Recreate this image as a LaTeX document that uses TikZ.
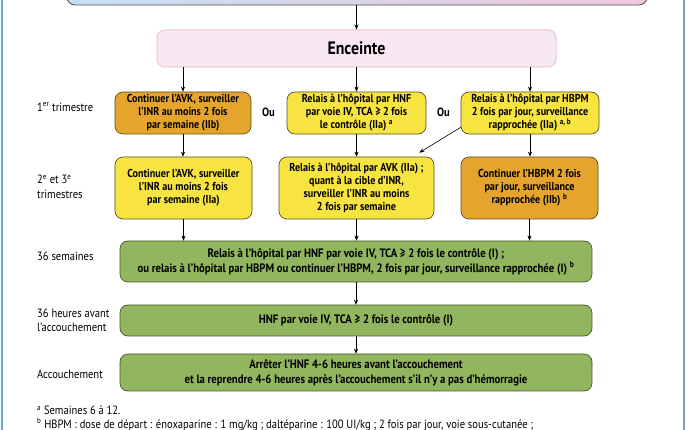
\documentclass[tikz,border=0pt]{standalone}
\usepackage{fontspec}
\setmainfont{PT Sans}[FakeStretch=0.88]
\usetikzlibrary{arrows.meta}
\definecolor{orangebox}{HTML}{E5A52C}
\definecolor{yellowbox}{HTML}{F8E440}
\definecolor{greenbox}{HTML}{92B55F}
\definecolor{ybord}{HTML}{5B4F1F}
\definecolor{gbord}{HTML}{4B5A2A}
\definecolor{encfill}{HTML}{F8E8F2}
\definecolor{encbord}{HTML}{EEC2DB}
\definecolor{topleft}{HTML}{C5DFF0}
\definecolor{topright}{HTML}{F0C8DE}
\definecolor{frameblue}{HTML}{6AA8E0}
\tikzset{
  base/.style={rounded corners=8pt, align=center, inner sep=1pt,
    font=\bfseries\fontsize{11.5}{13}\selectfont},
  orangenode/.style={base, draw=ybord, line width=0.7pt, fill=orangebox},
  yellownode/.style={base, draw=ybord, line width=0.7pt, fill=yellowbox},
  greennode/.style={base, draw=gbord, line width=0.7pt, fill=greenbox,
    font=\bfseries\fontsize{12.2}{15}\selectfont},
  lab/.style={anchor=west, align=left, inner sep=0pt, font=\fontsize{12}{14.5}\selectfont},
  arr/.style={-{Stealth[length=5pt,width=4pt]}, line width=0.6pt, black},
}
\begin{document}
\begin{tikzpicture}[x=1pt,y=-1pt]
\useasboundingbox (0,0) rectangle (686,430);
% frame
\draw[frameblue, line width=1.5pt] (2,0) -- (2,430);
\draw[frameblue, line width=1.5pt] (684,0) -- (684,430);
% top box (cut)
\node[draw=black!70, line width=0.8pt, rounded corners=8pt, left color=topleft, right color=topright,
  minimum width=580pt, minimum height=30pt, inner sep=0pt] (top) at (357,-10) {};
% Enceinte
\node[draw=encbord, line width=1pt, fill=encfill, rounded corners=8pt,
  minimum width=399pt, minimum height=37pt, font=\bfseries\fontsize{18}{20}\selectfont] (enc) at (356.5,48.5) {Enceinte};
% row 1
\node[orangenode, minimum width=136pt, minimum height=42pt] (b1) at (183,113)
  {Continuer l'AVK, surveiller\\l'INR au moins 2 fois\\par semaine (IIb)};
\node[yellownode, minimum width=139pt, minimum height=42pt] (b2) at (356.5,113)
  {Relais à l'hôpital par HNF\\par voie IV, TCA ≥ 2 fois\\le contrôle (IIa) \textsuperscript{a}};
\node[yellownode, minimum width=138pt, minimum height=42pt] (b3) at (530,113)
  {Relais à l'hôpital par HBPM\\2 fois par jour, surveillance\\rapprochée (IIa) \textsuperscript{a, b}};
\node[font=\bfseries\fontsize{12}{13}\selectfont] (ou1) at (268.5,112) {Ou};
\node[font=\bfseries\fontsize{12}{13}\selectfont] (ou2) at (443.5,112) {Ou};
% row 2
\node[yellownode, minimum width=137pt, minimum height=62pt] (c1) at (183.5,188)
  {Continuer l'AVK, surveiller\\l'INR au moins 2 fois\\par semaine (IIa)};
\node[yellownode, minimum width=155pt, minimum height=62pt] (c2) at (356.5,188)
  {Relais à l'hôpital par AVK (IIa) ;\\quant à la cible d'INR,\\surveiller l'INR au moins\\2 fois par semaine};
\node[orangenode, minimum width=137pt, minimum height=62pt] (c3) at (529.5,188)
  {Continuer l'HBPM 2 fois\\par jour, surveillance\\rapprochée (IIb) \textsuperscript{b}};
% green rows
\node[greennode, minimum width=472pt, minimum height=41pt] (g1) at (356,261.5)
  {Relais à l'hôpital par HNF par voie IV, TCA ≥ 2 fois le contrôle (I) ;\\ou relais à l'hôpital par HBPM ou continuer l'HBPM, 2 fois par jour, surveillance rapprochée (I) \textsuperscript{b}};
\node[greennode, minimum width=472pt, minimum height=31pt] (g2) at (356,320.5)
  {HNF par voie IV, TCA ≥ 2 fois le contrôle (I)};
\node[greennode, minimum width=472pt, minimum height=37pt] (g3) at (356,372.5)
  {Arrêter l'HNF 4-6 heures avant l'accouchement\\et la reprendre 4-6 heures après l'accouchement s'il n'y a pas d'hémorragie};
% labels
\node[lab] (l1) at (37,107) {1\textsuperscript{er} trimestre};
\node[lab] (l2) at (37,187) {2\textsuperscript{e} et 3\textsuperscript{e}\\trimestres};
\node[lab] (l3) at (37,256) {36 semaines};
\node[lab] (l4) at (37,320.5) {36 heures avant\\l'accouchement};
\node[lab] (l5) at (37,374) {Accouchement};
% footnotes
\node[lab] (f1) at (37,410.5) {\textsuperscript{a} Semaines 6 à 12.};
\node[lab] (f2) at (37,424.5) {\textsuperscript{b} HBPM : dose de départ : énoxaparine : 1 mg/kg ; daltéparine : 100 UI/kg ; 2 fois par jour, voie sous-cutanée ;};
% arrows
\draw[arr] (top.south -| enc.north) -- (enc.north);
\draw[arr] (enc.south -| b1.north) -- (b1.north);
\draw[arr] (enc.south -| b2.north) -- (b2.north);
\draw[arr] (enc.south -| b3.north) -- (b3.north);
\draw[arr] (b1.south) -- (b1.south |- c1.north);
\draw[arr] (b2.south) -- (b2.south |- c2.north);
\draw[arr] (b3.south) -- (b3.south |- c3.north);
\coordinate (dstart) at ([yshift=7pt]b3.south west);
\coordinate (dend) at ([xshift=-15pt,yshift=4pt]c2.north east);
\draw[arr] (dstart) -- (dend);
\draw[arr] (c1.south) -- (c1.south |- g1.north);
\draw[arr] (c2.south) -- (c2.south |- g1.north);
\draw[arr] (c3.south) -- (c3.south |- g1.north);
\draw[arr] (g1.south) -- (g2.north);
\draw[arr] (g2.south) -- (g3.north);
\end{tikzpicture}
\end{document}
